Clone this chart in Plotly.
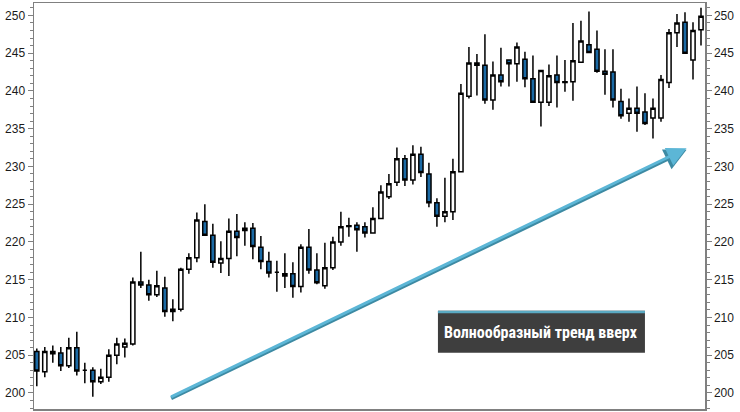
import plotly.graph_objects as go

days = list(range(1, 85))
opens = [205.5, 202.8, 205.5, 205.3, 203.6, 206.0, 203.0, 203.0, 201.5, 202.1,
         205.0, 206.1, 206.5, 214.7, 214.3, 213.0, 213.9, 210.8, 211.1, 216.4,
         217.9, 222.7, 220.9, 217.2, 217.8, 221.4, 221.5, 221.8, 219.3, 217.4,
         216.0, 215.5, 215.8, 214.1, 219.3, 216.3, 214.2, 216.6, 220.0, 222.15,
         222.2, 222.0, 221.2, 223.1, 226.0, 227.9, 231.0, 228.2, 231.6, 229.0,
         225.2, 223.4, 224.0, 229.3, 239.3, 243.7, 243.4, 238.8, 242.1, 244.1,
         243.6, 244.2, 241.6, 238.5, 238.5, 242.1, 241.2, 241.2, 243.8, 246.1,
         245.5, 242.6, 242.5, 238.6, 237.05, 237.7, 237.2, 236.4, 236.4, 241.1,
         247.7, 249.1, 244.1, 248.1]
highs = [205.9, 206.1, 206.3, 206.1, 207.3, 208.1, 204.0, 203.4, 203.2, 205.8,
         207.3, 207.2, 215.3, 218.7, 215.0, 216.2, 215.4, 212.4, 216.6, 218.5,
         223.9, 225.0, 222.4, 220.1, 223.1, 223.7, 222.6, 222.5, 220.8, 218.7,
         217.5, 218.5, 217.3, 219.7, 221.7, 218.5, 219.9, 220.7, 224.0, 223.2,
         222.6, 222.6, 224.6, 227.5, 229.0, 232.5, 231.5, 232.8, 232.6, 230.5,
         225.8, 228.5, 231.0, 240.9, 245.8, 244.9, 247.5, 243.9, 245.7, 244.2,
         246.4, 245.2, 244.7, 242.8, 243.5, 244.7, 244.1, 249.0, 249.3, 250.5,
         248.0, 245.5, 245.5, 240.3, 239.0, 240.6, 239.7, 239.0, 242.1, 248.2,
         250.2, 250.4, 249.1, 251.0]
lows = [200.9, 202.1, 204.0, 202.9, 203.3, 202.3, 201.3, 199.5, 201.2, 201.5,
        203.8, 204.7, 206.3, 213.9, 212.2, 212.7, 210.1, 209.5, 210.8, 215.8,
        217.3, 220.8, 216.6, 215.9, 215.5, 218.1, 219.5, 217.7, 216.4, 215.3,
        213.4, 213.9, 212.6, 213.3, 215.8, 214.4, 213.8, 216.3, 219.5, 220.7,
        218.7, 220.6, 221.1, 223.0, 225.7, 227.4, 227.4, 227.6, 228.6, 224.6,
        222.0, 222.6, 222.9, 229.2, 239.0, 239.4, 238.3, 237.5, 240.6, 240.6,
        241.2, 240.5, 238.4, 235.3, 238.0, 237.8, 239.9, 238.7, 243.8, 245.0,
        242.4, 239.5, 237.8, 236.3, 235.9, 234.6, 235.5, 233.7, 235.9, 240.4,
        245.8, 244.9, 241.5, 246.0]
closes = [202.9, 205.5, 205.2, 203.6, 206.0, 202.9, 203.0, 201.5, 202.1, 205.0,
          206.5, 206.6, 214.7, 214.3, 213.0, 214.2, 210.8, 211.1, 216.4, 217.9,
          222.9, 220.9, 217.3, 217.8, 221.4, 220.6, 221.8, 219.4, 217.4, 215.9,
          216.0, 215.8, 214.1, 219.3, 216.3, 214.6, 216.6, 220.0, 222.0, 222.05,
          221.6, 221.2, 223.1, 226.6, 227.7, 231.0, 228.2, 231.6, 229.2, 225.2,
          223.4, 224.0, 229.3, 239.7, 243.7, 243.4, 238.8, 242.1, 241.2, 243.6,
          245.8, 241.6, 238.5, 242.7, 242.0, 241.1, 241.1, 244.0, 246.6, 245.1,
          242.6, 242.2, 238.8, 236.7, 237.7, 237.05, 235.7, 237.7, 241.5, 247.7,
          249.0, 245.0, 248.0, 249.9]

y_ticks = [200, 205, 210, 215, 220, 225, 230, 235, 240, 245, 250]
label_text = "Волнообразный тренд вверх"
arrow_tail = (17.6, 199.4)
arrow_tip = (82.2, 232.4)

y_range = [197.88, 251.64]
x_range = [0.65, 84.5]

AXIS_GRAY = "#808080"
BEAR = "#1b6aa5"

fig = go.Figure()
fig.add_trace(go.Candlestick(
    x=days, open=opens, high=highs, low=lows, close=closes,
    increasing=dict(fillcolor="#ffffff", line=dict(color="#000000", width=1.5)),
    decreasing=dict(fillcolor=BEAR, line=dict(color="#000000", width=1.5)),
    whiskerwidth=0, showlegend=False, hoverinfo="skip",
))
# invisible trace so the right-hand axis is drawn
fig.add_trace(go.Scatter(x=[days[0]], y=[y_ticks[0]], yaxis="y2", mode="markers",
                         marker=dict(opacity=0), showlegend=False, hoverinfo="skip"))

tick_font = dict(family="Liberation Sans Narrow, Arial Narrow, Liberation Sans, Arial, sans-serif",
                 size=12, color="#1a1a1a")
common_y = dict(
    range=y_range, tickvals=y_ticks, ticks="outside", ticklen=5, tickwidth=1,
    tickcolor=AXIS_GRAY, showgrid=False, zeroline=False, showline=True,
    linecolor=AXIS_GRAY, linewidth=1.5, tickfont=tick_font, automargin=False,
    minor=dict(dtick=1, ticks="outside", ticklen=3, tickcolor=AXIS_GRAY, tickwidth=1, showgrid=False),
)

fig.update_layout(
    width=740, height=412,
    margin=dict(l=34, r=35, t=3, b=3, autoexpand=False),
    paper_bgcolor="#ffffff", plot_bgcolor="#ffffff",
    boxgap=0.25,
    xaxis=dict(range=x_range, showticklabels=False, ticks="", showgrid=False,
               zeroline=False, showline=True, mirror=True, linecolor=AXIS_GRAY,
               linewidth=1.5, rangeslider=dict(visible=False), fixedrange=True,
               automargin=False),
    yaxis=dict(side="left", **common_y),
    yaxis2=dict(side="right", overlaying="y", **common_y),
)

# arrow (shadow + light body)
fig.add_annotation(x=arrow_tip[0], y=arrow_tip[1] - 0.2, ax=arrow_tail[0], ay=arrow_tail[1] - 0.2,
                   xref="x", yref="y", axref="x", ayref="y", text="", showarrow=True,
                   arrowhead=2, arrowsize=1.1, arrowwidth=4, arrowcolor="#3d8aa3", standoff=0)
fig.add_annotation(x=arrow_tip[0], y=arrow_tip[1], ax=arrow_tail[0], ay=arrow_tail[1],
                   xref="x", yref="y", axref="x", ayref="y", text="", showarrow=True,
                   arrowhead=2, arrowsize=1.3, arrowwidth=3, arrowcolor="#5cb6d6", standoff=0)

# label box
bx0, bx1, by0, by1 = 0.602, 0.9105, 0.1387, 0.2421
fig.add_shape(type="rect", xref="paper", yref="paper", x0=bx0, x1=bx1, y0=by0, y1=by1,
              fillcolor="#3e3e3e", line=dict(width=0), layer="above")
fig.add_shape(type="rect", xref="paper", yref="paper", x0=bx0, x1=bx1, y0=by1 - 0.0062, y1=by1,
              fillcolor="#5aa9c2", line=dict(width=0), layer="above")
fig.add_annotation(x=(bx0 + bx1) / 2, y=(by0 + by1 - 0.006) / 2, xref="paper", yref="paper",
                   xanchor="center", yanchor="middle",
                   text="<b>" + label_text + "</b>", showarrow=False,
                   font=dict(family="Liberation Sans Narrow, Roboto Condensed, DejaVu Sans Condensed, sans-serif",
                             size=16, color="#ffffff"))

fig.write_html("out.html", config={"displayModeBar": False, "staticPlot": True},
               post_script="document.body.style.margin='0';document.body.style.padding='0';")
